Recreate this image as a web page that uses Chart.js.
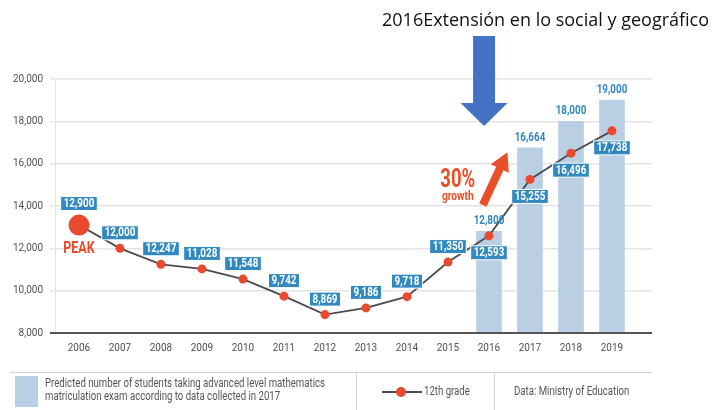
<!DOCTYPE html>
<html>
<head>
<meta charset="utf-8">
<script src="https://cdn.jsdelivr.net/npm/chart.js@4.4.1/dist/chart.umd.min.js"></script>
<style>
  html, body { margin: 0; padding: 0; background: #fff; }
  #wrap { width: 713px; height: 410px; }
</style>
</head>
<body>
<div id="wrap"><canvas id="chart" width="713" height="410"></canvas></div>
<script>
// Datos del gráfico
const YEARS = [2006, 2007, 2008, 2009, 2010, 2011, 2012, 2013, 2014, 2015, 2016, 2017, 2018, 2019];
const GRADE12 = [13100, 12000, 11247, 11028, 10548, 9742, 8869, 9186, 9718, 11350, 12593, 15255, 16496, 17550];
const GRADE12_LABELS = ['12,900', '12,000', '12,247', '11,028', '11,548', '9,742', '8,869', '9,186', '9,718', '11,350', '12,593', '15,255', '16,496', '17,738'];
const FORECAST_YEARS = [2016, 2017, 2018, 2019];
const FORECAST = [12800, 16750, 18000, 19000];
const FORECAST_LABELS = ['12,800', '16,664', '18,000', '19,000'];
const Y_TICKS = [8000, 10000, 12000, 14000, 16000, 18000, 20000];

const TITLE = '2016Extensión en lo social y geográfico';
const LEGEND_BAR = ['Predicted number of students taking advanced level mathematics',
                    'matriculation exam according to data collected in 2017'];
const LEGEND_LINE = '12th grade';
const SOURCE = 'Data: Ministry of Education';

// Colores
const colors = {
    bar: 'rgb(186, 207, 228)',
    box: 'rgb(50, 137, 191)',
    dot: 'rgb(233, 73, 44)',
    line: 'rgb(75, 75, 75)',
    grid: 'rgb(228, 228, 228)',
    tick: 'rgb(80, 80, 80)',
    blueArrow: 'rgb(68, 114, 196)'
};
const FONT = "Roboto, 'Open Sans', sans-serif";

function fmt(v) {
    return v.toLocaleString('en-US');
}

// texto estrechado horizontalmente (la fuente original es condensada)
function narrowText(ctx, txt, x, y, sx) {
    ctx.save();
    ctx.translate(x, y);
    ctx.scale(sx, 1);
    ctx.fillText(txt, 0, 0);
    ctx.restore();
}

// Etiquetas de valores
const valueLabels = {
    id: 'valueLabels',
    afterDatasetsDraw(chart) {
        const ctx = chart.ctx;
        ctx.save();
        ctx.textAlign = 'center';
        ctx.textBaseline = 'middle';
        ctx.font = 'bold 12px ' + FONT;
        const sx = 0.82;

        // sobre las barras
        ctx.fillStyle = colors.box;
        chart.getDatasetMeta(1).data.forEach((el, i) => {
            narrowText(ctx, FORECAST_LABELS[i], el.x, el.y - 10, sx);
        });

        // cajas de la línea
        chart.getDatasetMeta(0).data.forEach((el, i) => {
            const r = el.options.radius;
            const below = FORECAST_YEARS.includes(YEARS[i]);
            const cy = below ? el.y + 17 : el.y - (r + 11);
            const txt = GRADE12_LABELS[i];
            const w = ctx.measureText(txt).width * sx + 6;
            const h = 14;
            ctx.fillStyle = colors.box;
            ctx.fillRect(el.x - w / 2, cy - h / 2, w, h);
            ctx.strokeStyle = '#fff';
            ctx.lineWidth = 1;
            ctx.strokeRect(el.x - w / 2, cy - h / 2, w, h);
            ctx.fillStyle = '#fff';
            narrowText(ctx, txt, el.x, cy + 0.5, sx);
        });
        ctx.restore();
    }
};

function drawArrow(ctx, x1, y1, x2, y2, shaft, headLen, headW, color) {
    const dx = x2 - x1, dy = y2 - y1;
    const len = Math.sqrt(dx * dx + dy * dy);
    const ux = dx / len, uy = dy / len;
    const nx = -uy, ny = ux;
    const bx = x2 - ux * headLen, by = y2 - uy * headLen;
    ctx.beginPath();
    ctx.moveTo(x1 + nx * shaft / 2, y1 + ny * shaft / 2);
    ctx.lineTo(bx + nx * shaft / 2, by + ny * shaft / 2);
    ctx.lineTo(bx + nx * headW / 2, by + ny * headW / 2);
    ctx.lineTo(x2, y2);
    ctx.lineTo(bx - nx * headW / 2, by - ny * headW / 2);
    ctx.lineTo(bx - nx * shaft / 2, by - ny * shaft / 2);
    ctx.lineTo(x1 - nx * shaft / 2, y1 - ny * shaft / 2);
    ctx.closePath();
    ctx.fillStyle = color;
    ctx.fill();
}

// Anotaciones, título y leyenda
const extras = {
    id: 'extras',
    afterDraw(chart) {
        const ctx = chart.ctx;
        const xs = chart.scales.x, ys = chart.scales.y;
        const area = chart.chartArea;
        ctx.save();

        // eje inferior
        ctx.strokeStyle = 'rgb(85, 85, 85)';
        ctx.lineWidth = 2;
        ctx.beginPath();
        ctx.moveTo(area.left - 5, area.bottom);
        ctx.lineTo(area.right, area.bottom);
        ctx.stroke();

        // PEAK
        const p0 = chart.getDatasetMeta(0).data[0];
        ctx.fillStyle = colors.dot;
        ctx.font = 'bold 16px ' + FONT;
        ctx.textAlign = 'center';
        ctx.textBaseline = 'middle';
        narrowText(ctx, 'PEAK', p0.x, p0.y + 24, 0.78);

        // 30% growth
        ctx.fillStyle = 'rgb(232, 80, 42)';
        ctx.font = 'bold 25px ' + FONT;
        narrowText(ctx, '30%', xs.getPixelForValue(2015.24), ys.getPixelForValue(15170), 0.74);
        ctx.font = 'bold 12px ' + FONT;
        narrowText(ctx, 'growth', xs.getPixelForValue(2015.24), ys.getPixelForValue(14420), 0.85);
        drawArrow(ctx,
            xs.getPixelForValue(2015.85), ys.getPixelForValue(14050),
            xs.getPixelForValue(2016.45), ys.getPixelForValue(16540),
            8, 18, 20, 'rgb(232, 80, 42)');

        // flecha azul
        const bx = xs.getPixelForValue(2015.88);
        const tip = ys.getPixelForValue(17780);
        drawArrow(ctx, bx, 36, bx, tip, 22, 23, 47, colors.blueArrow);

        // título
        ctx.fillStyle = '#111';
        ctx.font = "18px 'Open Sans', 'Noto Sans', sans-serif";
        ctx.textAlign = 'left';
        ctx.fillText(TITLE, 382, 21);

        // leyenda
        const top = area.bottom + 39;
        ctx.strokeStyle = 'rgb(210, 210, 210)';
        ctx.lineWidth = 1;
        ctx.beginPath();
        ctx.moveTo(10, top + 0.5);
        ctx.lineTo(area.right, top + 0.5);
        ctx.moveTo(356.5, top);
        ctx.lineTo(356.5, 410);
        ctx.moveTo(494.5, top);
        ctx.lineTo(494.5, 410);
        ctx.stroke();

        ctx.fillStyle = colors.bar;
        ctx.fillRect(15, top + 4, 23, 31);

        ctx.fillStyle = 'rgb(85, 85, 85)';
        ctx.font = '12px ' + FONT;
        ctx.textAlign = 'left';
        const legW = ctx.measureText(LEGEND_BAR[0]).width;
        const legSx = 280 / legW;
        narrowText(ctx, LEGEND_BAR[0], 45, top + 12, legSx);
        narrowText(ctx, LEGEND_BAR[1], 45, top + 25, legSx);

        ctx.strokeStyle = colors.line;
        ctx.lineWidth = 2;
        ctx.beginPath();
        ctx.moveTo(382, top + 20);
        ctx.lineTo(422, top + 20);
        ctx.stroke();
        ctx.fillStyle = colors.dot;
        ctx.beginPath();
        ctx.arc(401, top + 20, 5, 0, Math.PI * 2);
        ctx.fill();

        ctx.fillStyle = 'rgb(85, 85, 85)';
        narrowText(ctx, LEGEND_LINE, 424, top + 20, legSx);
        narrowText(ctx, SOURCE, 514, top + 20, legSx);

        ctx.restore();
    }
};

const ctx = document.getElementById('chart').getContext('2d');

new Chart(ctx, {
    data: {
        datasets: [
            {
                type: 'line',
                label: LEGEND_LINE,
                data: YEARS.map((y, i) => ({ x: y, y: GRADE12[i] })),
                borderColor: colors.line,
                borderWidth: 1.8,
                pointRadius: YEARS.map((y, i) => i === 0 ? 10.5 : 4.5),
                pointBackgroundColor: colors.dot,
                pointBorderWidth: 0,
                tension: 0,
                order: 0
            },
            {
                type: 'bar',
                label: LEGEND_BAR.join(' '),
                data: FORECAST_YEARS.map((y, i) => ({ x: y, y: FORECAST[i] })),
                backgroundColor: colors.bar,
                barThickness: 25,
                order: 1
            }
        ]
    },
    options: {
        responsive: false,
        animation: false,
        devicePixelRatio: 1,
        layout: { padding: { left: 0, right: 61, top: 79, bottom: 47 } },
        plugins: {
            legend: { display: false },
            tooltip: { enabled: false }
        },
        scales: {
            x: {
                type: 'linear',
                offset: false,
                min: 2005.415,
                max: 2019.976,
                grid: { display: false, offset: false },
                border: { display: false },
                afterBuildTicks: (scale) => { scale.ticks = YEARS.map(v => ({ value: v })); },
                afterFit: (scale) => { scale.height = 30; },
                ticks: {
                    autoSkip: false,
                    maxRotation: 0,
                    padding: 1,
                    color: colors.tick,
                    font: { family: FONT, size: 10 },
                    callback: (v) => String(v)
                }
            },
            y: {
                min: 8000,
                max: 20000,
                afterBuildTicks: (scale) => { scale.ticks = Y_TICKS.map(v => ({ value: v })); },
                afterFit: (scale) => { scale.width = 55; },
                grid: { color: colors.grid, lineWidth: 1.5, tickLength: 5, drawTicks: true },
                border: { display: true, color: colors.grid, width: 1 },
                ticks: {
                    padding: 7,
                    color: colors.tick,
                    font: { family: FONT, size: 10 },
                    callback: (v) => fmt(v)
                }
            }
        }
    },
    plugins: [valueLabels, extras]
});
</script>
</body>
</html>
